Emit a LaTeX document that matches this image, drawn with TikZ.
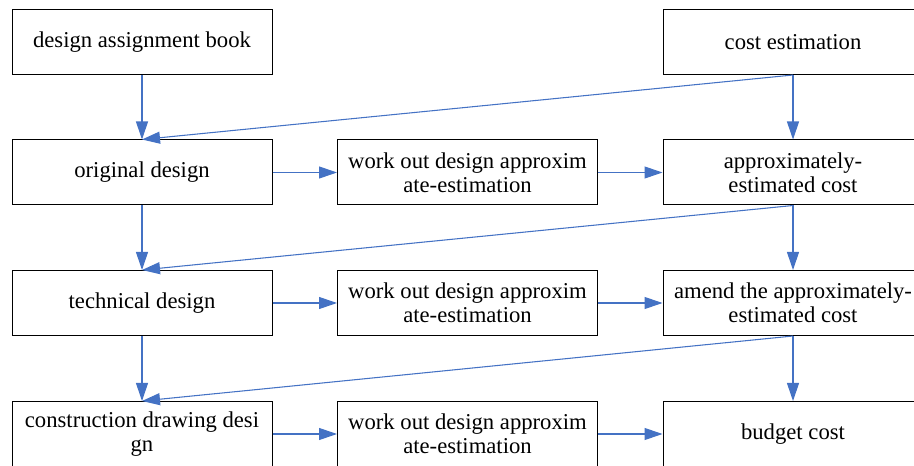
\documentclass[tikz,border=0pt]{standalone}
\usepackage{fontspec}
\setmainfont{Liberation Serif}
\usetikzlibrary{arrows.meta}
\definecolor{flowblue}{RGB}{68,114,196}
\begin{document}
\begin{tikzpicture}[x=0.75pt,y=-0.75pt,
    stage/.style={draw=black,line width=0.75pt,minimum width=195pt,minimum height=48.75pt,
      inner sep=2pt,align=center,font=\fontsize{17}{18}\selectfont},
    flow/.style={draw=flowblue,line width=0.8pt,-{Triangle[length=13.5pt,width=9pt]}}]
  \useasboundingbox (0,0) rectangle (914,466);
  % left column: design stages
  \node[stage] (design) at (142,42)    {design assignment book};
  \node[stage] (orig)   at (142,172.5) {original design};
  \node[stage] (tech)   at (142,303)   {technical design};
  \node[stage] (constr) at (142,434)   {construction drawing desi\\gn};
  % middle column
  \node[stage] (work1) at (467.5,172.5) {work out design approxim\\ate-estimation};
  \node[stage] (work2) at (467.5,303)   {work out design approxim\\ate-estimation};
  \node[stage] (work3) at (467.5,434)   {work out design approxim\\ate-estimation};
  % right column: costs
  \node[stage] (cost)   at (793,42)    {cost estimation};
  \node[stage] (approx) at (793,172.5) {approximately-\\estimated cost};
  \node[stage] (amend)  at (793,303)   {amend the approximately-\\estimated cost};
  \node[stage] (budget) at (793,434)   {budget cost};
  % vertical links
  \draw[flow] (design) -- (orig);
  \draw[flow] (orig) -- (tech);
  \draw[flow] (tech) -- (constr);
  \draw[flow] (cost) -- (approx);
  \draw[flow] (approx) -- (amend);
  \draw[flow] (amend) -- (budget);
  % horizontal links
  \draw[flow] (orig) -- (work1);
  \draw[flow] (work1) -- (approx);
  \draw[flow] (tech) -- (work2);
  \draw[flow] (work2) -- (amend);
  \draw[flow] (constr) -- (work3);
  \draw[flow] (work3) -- (budget);
  % diagonal feedback
  \draw[flow] (cost.south) -- (orig.north);
  \draw[flow] (approx.south) -- (tech.north);
  \draw[flow] (amend.south) -- (constr.north);
\end{tikzpicture}
\end{document}
